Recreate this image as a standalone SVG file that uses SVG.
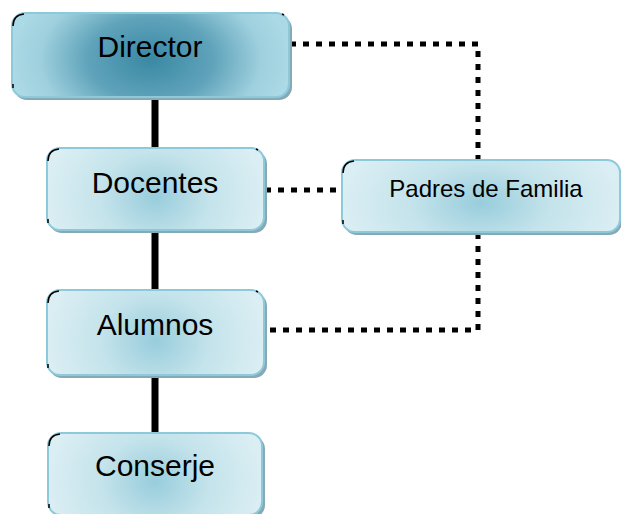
<svg xmlns="http://www.w3.org/2000/svg" width="621" height="514" viewBox="0 0 621 514">
<defs>
<radialGradient id="gDir" cx="0.5" cy="0.55" r="0.5" gradientTransform="translate(0.5 0.55) scale(1 2.2) translate(-0.5 -0.55)">
<stop offset="0" stop-color="#3a88a3"/>
<stop offset="0.45" stop-color="#5fa3ba"/>
<stop offset="0.8" stop-color="#9fd0de"/>
<stop offset="1" stop-color="#abd9e5"/>
</radialGradient>
<radialGradient id="gBox" cx="0.5" cy="0.6" r="0.5" gradientTransform="translate(0.5 0.6) scale(1 2.2) translate(-0.5 -0.6)">
<stop offset="0" stop-color="#98cddc"/>
<stop offset="0.5" stop-color="#c4e3eb"/>
<stop offset="1" stop-color="#daeef3"/>
</radialGradient>
</defs>
<style>
.shadow{fill:#86a9b5}
.box{stroke:#8ccadb;stroke-width:2}
.dir{fill:url(#gDir)}
.lt{fill:url(#gBox)}
.corner{fill:none;stroke:#000;stroke-width:1.5}
.lbl{font-family:"Liberation Sans",Arial,sans-serif;font-size:30px;fill:#000;text-anchor:middle}
.lbls{font-family:"Liberation Sans",Arial,sans-serif;font-size:24px;fill:#000;text-anchor:middle}
.solid{stroke:#000;stroke-width:7;fill:none}
.dot{stroke:#000;stroke-width:5;fill:none;stroke-dasharray:6 7}
</style>
<g id="connectors">
<line class="solid" x1="155" y1="97" x2="155" y2="433"/>
<path class="dot" d="M290 44 H478 V160"/>
<path class="dot" d="M265 190 H342"/>
<path class="dot" d="M478 233 V330 H265"/>
</g>
<g id="director">
<rect class="shadow" x="14" y="16" width="278" height="84" rx="13"/>
<rect class="box dir" x="12" y="13" width="277" height="84" rx="13"/>
<path class="corner" d="M13 26 Q13 15 24 14 M282 14 L284 15 M13 84 L13 88"/>
<text class="lbl" x="150" y="57">Director</text>
</g>
<g id="docentes">
<rect class="shadow" x="49" y="151" width="218" height="82" rx="13"/>
<rect class="box lt" x="47" y="148" width="217" height="82" rx="13"/>
<path class="corner" d="M48 161 Q48 150 59 149 M256 149 L258 150 M48 219 L48 223"/>
<text class="lbl" x="155" y="193">Docentes</text>
</g>
<g id="padres">
<rect class="shadow" x="344" y="163" width="278" height="72" rx="13"/>
<rect class="box lt" x="342" y="160" width="278" height="72" rx="13"/>
<path class="corner" d="M343 173 Q343 162 354 161 M343 220 L343 224"/>
<text class="lbls" x="486" y="197">Padres de Familia</text>
</g>
<g id="alumnos">
<rect class="shadow" x="49" y="293" width="218" height="85" rx="13"/>
<rect class="box lt" x="47" y="290" width="217" height="85" rx="13"/>
<path class="corner" d="M48 303 Q48 292 59 291 M256 291 L258 292 M48 364 L48 368"/>
<text class="lbl" x="155" y="335">Alumnos</text>
</g>
<g id="conserje">
<rect class="shadow" x="50" y="436" width="215" height="82" rx="13"/>
<rect class="box lt" x="48" y="433" width="214" height="82" rx="13"/>
<path class="corner" d="M49 446 Q49 435 60 434 M49 504 L49 508"/>
<text class="lbl" x="155" y="476">Conserje</text>
</g>
</svg>
